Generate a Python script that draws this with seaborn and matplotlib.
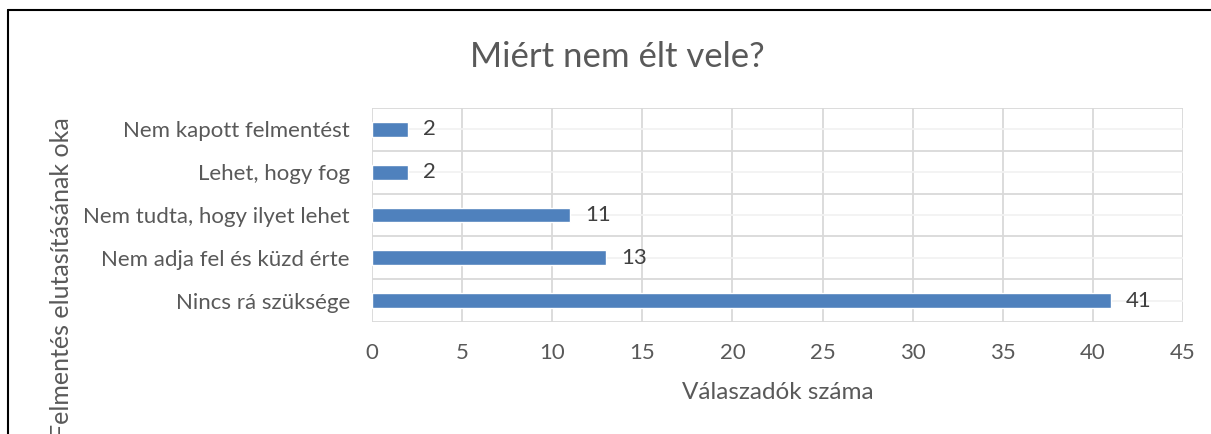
import matplotlib
matplotlib.use("Agg")
import matplotlib.pyplot as plt
import seaborn as sns
import pandas as pd
from matplotlib.lines import Line2D

# --- Data ---
categories = ["Nem kapott felmentést", "Lehet, hogy fog", "Nem tudta, hogy ilyet lehet",
              "Nem adja fel és küzd érte", "Nincs rá szüksége"]
counts = [2, 2, 11, 13, 41]
x_ticks = [0, 5, 10, 15, 20, 25, 30, 35, 40, 45]

title = "Miért nem élt vele?"
x_label = "Válaszadók száma"
y_label = "Felmentés elutasításának oka"

# --- Style ---
sns.set_style("white")
plt.rcParams["font.family"] = ["Lato", "DejaVu Sans"]
text_grey = "#595959"
bar_blue = "#4F81BD"

df = pd.DataFrame({"ok": categories, "db": counts})

W, H = 1211, 434
fig = plt.figure(figsize=(W / 100, H / 100), dpi=100)
ax = fig.add_axes([372 / W, 1 - 322 / H, (1183 - 372) / W, (322 - 108) / H])

sns.barplot(data=df, x="db", y="ok", orient="h", color=bar_blue, width=0.35,
            saturation=1, ax=ax, zorder=3)

ax.set_xlim(0, 45)
ax.set_ylim(len(categories) - 0.5, -0.5)
ax.set_xticks(x_ticks)
ax.set_xticklabels([str(t) for t in x_ticks])

# gridlines: vertical at every tick, horizontal at category borders and centres
for t in x_ticks:
    ax.axvline(t, color="#D9D9D9", lw=1.3, zorder=1)
for i in range(len(categories) + 1):
    ax.axhline(i - 0.5, color="#D9D9D9", lw=1.3, zorder=1)
for i in range(len(categories)):
    ax.axhline(i, color="#F2F2F2", lw=1.3, zorder=1)

for s in ax.spines.values():
    s.set_visible(False)

ax.tick_params(axis="both", length=0, labelsize=16, labelcolor=text_grey)
ax.tick_params(axis="x", pad=15)
ax.tick_params(axis="y", pad=16)
ax.set_xlabel(x_label, fontsize=17.5, color=text_grey, labelpad=14)
ax.set_ylabel("")

# data labels
for i, v in enumerate(counts):
    ax.annotate(str(v), (v, i), xytext=(11, 0), textcoords="offset points",
                va="center", ha="left", fontsize=16, color="#404040")

fig.text(617 / W, 1 - 57 / H, title, ha="center", va="center", fontsize=25, color=text_grey)
# the axis title runs past the bottom edge, as in the reference
fig.text(62 / W, 1 - 117 / H, y_label, rotation=90, ha="center", va="top",
         fontsize=18, color=text_grey)

# chart border (top and left edges)
fig.add_artist(Line2D([8 / W, 1], [1 - 10 / H, 1 - 10 / H], transform=fig.transFigure,
                      color="black", lw=1.5))
fig.add_artist(Line2D([8 / W, 8 / W], [0, 1 - 10 / H], transform=fig.transFigure,
                      color="black", lw=1.5))

fig.savefig("out.png", dpi=100)
